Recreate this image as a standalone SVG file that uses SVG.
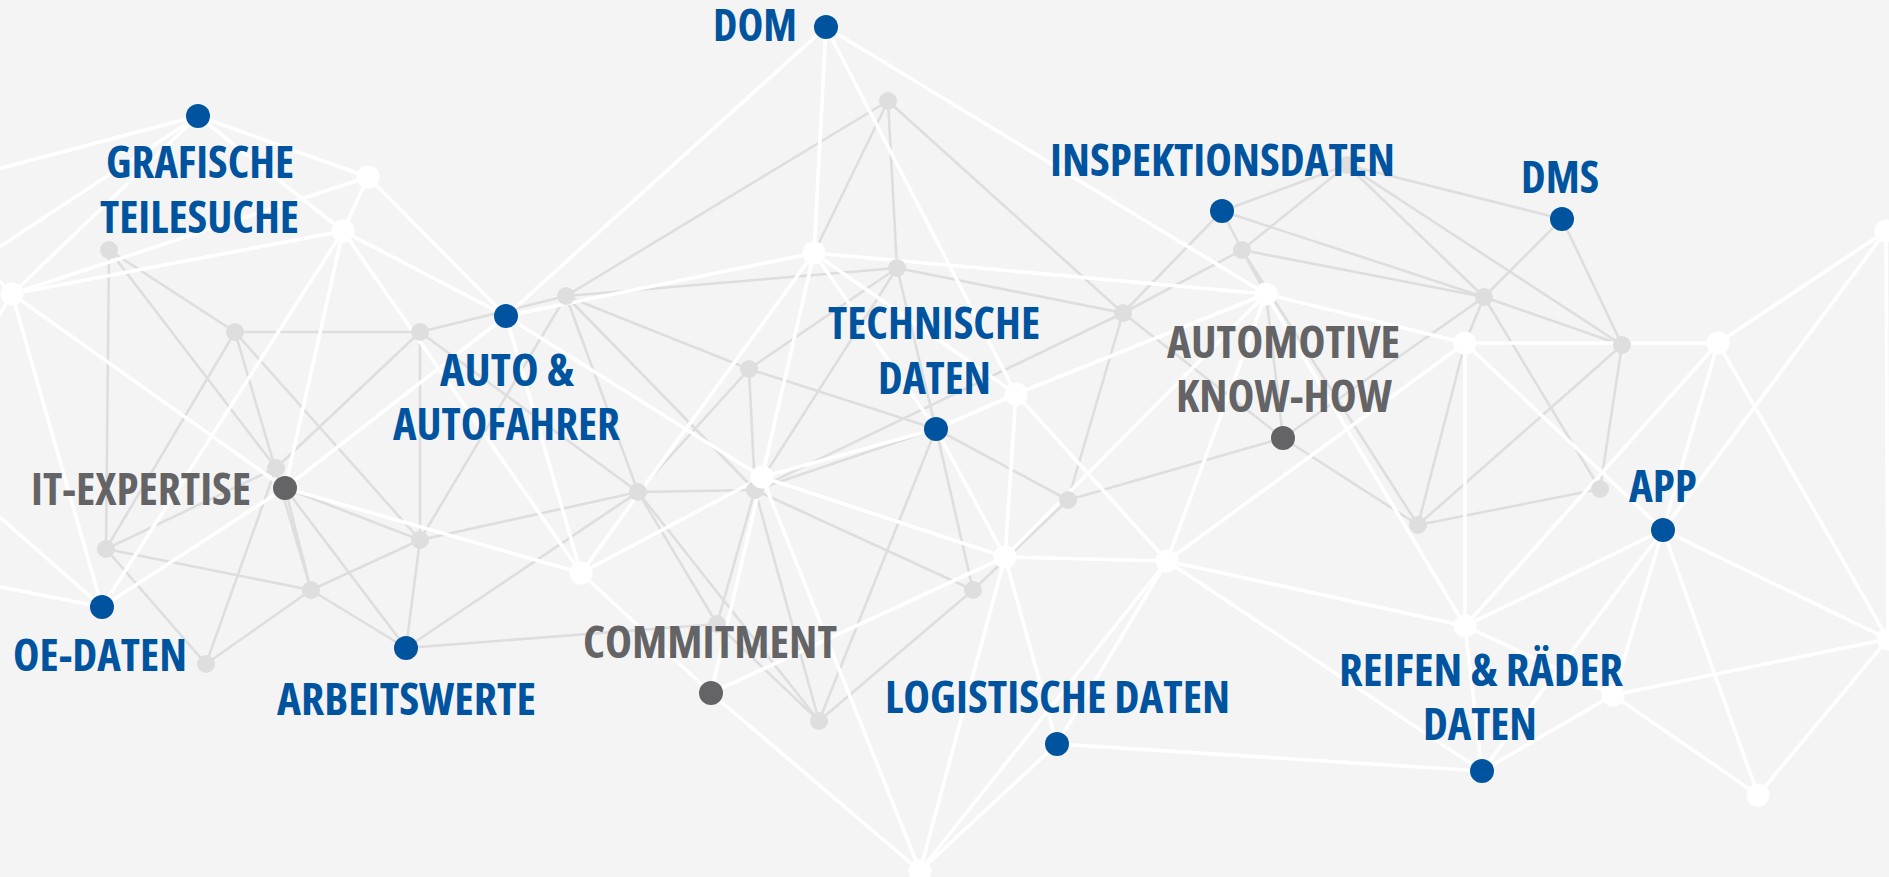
<svg xmlns="http://www.w3.org/2000/svg" width="1889" height="877" viewBox="0 0 1889 877">
<style>
.bg{fill:#f4f4f4}
.g line{stroke:#dedede;stroke-width:2.6}
.w line{stroke:#ffffff;stroke-width:3.6}
.ng{fill:#dedede}
.nw{fill:#ffffff}
.nb{fill:#00549f}
.nd{fill:#646466}
text{font-family:"Open Sans","Liberation Sans",sans-serif;font-weight:700;font-stretch:condensed;font-size:45px}
.tb{fill:#00549f}
.td{fill:#646466}
</style>
<rect class="bg" x="0" y="0" width="1889" height="877"/>
<g id="connectors">
<g class="g">
<line x1="109" y1="250" x2="106" y2="549"/>
<line x1="109" y1="250" x2="235" y2="332"/>
<line x1="109" y1="250" x2="276" y2="468"/>
<line x1="235" y1="332" x2="420" y2="332"/>
<line x1="235" y1="332" x2="106" y2="549"/>
<line x1="235" y1="332" x2="311" y2="590"/>
<line x1="235" y1="332" x2="420" y2="540"/>
<line x1="420" y1="332" x2="420" y2="540"/>
<line x1="420" y1="332" x2="276" y2="468"/>
<line x1="420" y1="332" x2="566" y2="296"/>
<line x1="420" y1="332" x2="638" y2="492"/>
<line x1="106" y1="549" x2="276" y2="468"/>
<line x1="106" y1="549" x2="311" y2="590"/>
<line x1="106" y1="549" x2="206" y2="664"/>
<line x1="206" y1="664" x2="276" y2="468"/>
<line x1="285" y1="488" x2="311" y2="590"/>
<line x1="285" y1="488" x2="406" y2="648"/>
<line x1="285" y1="488" x2="420" y2="540"/>
<line x1="311" y1="590" x2="420" y2="540"/>
<line x1="311" y1="590" x2="406" y2="648"/>
<line x1="311" y1="590" x2="206" y2="664"/>
<line x1="420" y1="540" x2="406" y2="648"/>
<line x1="420" y1="540" x2="638" y2="492"/>
<line x1="420" y1="540" x2="566" y2="296"/>
<line x1="406" y1="648" x2="638" y2="492"/>
<line x1="406" y1="648" x2="717" y2="624"/>
<line x1="566" y1="296" x2="888" y2="101"/>
<line x1="566" y1="296" x2="897" y2="268"/>
<line x1="566" y1="296" x2="749" y2="369"/>
<line x1="566" y1="296" x2="755" y2="490"/>
<line x1="566" y1="296" x2="638" y2="492"/>
<line x1="888" y1="101" x2="814" y2="253"/>
<line x1="888" y1="101" x2="897" y2="268"/>
<line x1="888" y1="101" x2="1123" y2="313"/>
<line x1="897" y1="268" x2="1123" y2="313"/>
<line x1="897" y1="268" x2="749" y2="369"/>
<line x1="897" y1="268" x2="936" y2="429"/>
<line x1="897" y1="268" x2="755" y2="490"/>
<line x1="749" y1="369" x2="638" y2="492"/>
<line x1="749" y1="369" x2="755" y2="490"/>
<line x1="749" y1="369" x2="936" y2="429"/>
<line x1="638" y1="492" x2="755" y2="490"/>
<line x1="638" y1="492" x2="717" y2="624"/>
<line x1="638" y1="492" x2="819" y2="721"/>
<line x1="717" y1="624" x2="755" y2="490"/>
<line x1="717" y1="624" x2="819" y2="721"/>
<line x1="755" y1="490" x2="819" y2="721"/>
<line x1="755" y1="490" x2="973" y2="590"/>
<line x1="755" y1="490" x2="936" y2="429"/>
<line x1="936" y1="429" x2="1068" y2="500"/>
<line x1="936" y1="429" x2="973" y2="590"/>
<line x1="936" y1="429" x2="819" y2="721"/>
<line x1="819" y1="721" x2="973" y2="590"/>
<line x1="973" y1="590" x2="1068" y2="500"/>
<line x1="1123" y1="313" x2="1222" y2="211"/>
<line x1="1123" y1="313" x2="1242" y2="250"/>
<line x1="1123" y1="313" x2="1283" y2="438"/>
<line x1="1123" y1="313" x2="1068" y2="500"/>
<line x1="1123" y1="313" x2="755" y2="490"/>
<line x1="1068" y1="500" x2="1283" y2="438"/>
<line x1="1222" y1="211" x2="1347" y2="165"/>
<line x1="1222" y1="211" x2="1484" y2="297"/>
<line x1="1222" y1="211" x2="1242" y2="250"/>
<line x1="1242" y1="250" x2="1347" y2="165"/>
<line x1="1242" y1="250" x2="1484" y2="297"/>
<line x1="1242" y1="250" x2="1266" y2="294"/>
<line x1="1242" y1="250" x2="1418" y2="525"/>
<line x1="1347" y1="165" x2="1562" y2="219"/>
<line x1="1347" y1="165" x2="1484" y2="297"/>
<line x1="1347" y1="165" x2="1622" y2="345"/>
<line x1="1484" y1="297" x2="1562" y2="219"/>
<line x1="1562" y1="219" x2="1622" y2="345"/>
<line x1="1484" y1="297" x2="1622" y2="345"/>
<line x1="1484" y1="297" x2="1283" y2="438"/>
<line x1="1484" y1="297" x2="1465" y2="343"/>
<line x1="1484" y1="297" x2="1600" y2="489"/>
<line x1="1465" y1="343" x2="1418" y2="525"/>
<line x1="1622" y1="345" x2="1418" y2="525"/>
<line x1="1622" y1="345" x2="1600" y2="489"/>
<line x1="1418" y1="525" x2="1600" y2="489"/>
<line x1="1283" y1="438" x2="1418" y2="525"/>
<line x1="1266" y1="294" x2="1283" y2="438"/>
</g>
<g class="w">
<line x1="198" y1="116" x2="-40" y2="179"/>
<line x1="198" y1="116" x2="-40" y2="273"/>
<line x1="12" y1="294" x2="-30" y2="249"/>
<line x1="12" y1="294" x2="-30" y2="364"/>
<line x1="102" y1="607" x2="-40" y2="482"/>
<line x1="102" y1="607" x2="-40" y2="579"/>
<line x1="198" y1="116" x2="12" y2="294"/>
<line x1="198" y1="116" x2="368" y2="177"/>
<line x1="198" y1="116" x2="343" y2="231"/>
<line x1="368" y1="177" x2="343" y2="231"/>
<line x1="368" y1="177" x2="12" y2="294"/>
<line x1="368" y1="177" x2="506" y2="316"/>
<line x1="343" y1="231" x2="12" y2="294"/>
<line x1="343" y1="231" x2="506" y2="316"/>
<line x1="343" y1="231" x2="102" y2="607"/>
<line x1="343" y1="231" x2="285" y2="488"/>
<line x1="343" y1="231" x2="581" y2="573"/>
<line x1="12" y1="294" x2="285" y2="488"/>
<line x1="12" y1="294" x2="102" y2="607"/>
<line x1="102" y1="607" x2="285" y2="488"/>
<line x1="506" y1="316" x2="826" y2="27"/>
<line x1="506" y1="316" x2="814" y2="253"/>
<line x1="506" y1="316" x2="762" y2="477"/>
<line x1="506" y1="316" x2="581" y2="573"/>
<line x1="506" y1="316" x2="285" y2="488"/>
<line x1="285" y1="488" x2="581" y2="573"/>
<line x1="826" y1="27" x2="814" y2="253"/>
<line x1="826" y1="27" x2="1016" y2="394"/>
<line x1="826" y1="27" x2="1266" y2="294"/>
<line x1="814" y1="253" x2="1266" y2="294"/>
<line x1="814" y1="253" x2="762" y2="477"/>
<line x1="814" y1="253" x2="581" y2="573"/>
<line x1="814" y1="253" x2="936" y2="429"/>
<line x1="814" y1="253" x2="1016" y2="394"/>
<line x1="762" y1="477" x2="581" y2="573"/>
<line x1="762" y1="477" x2="711" y2="693"/>
<line x1="762" y1="477" x2="936" y2="429"/>
<line x1="762" y1="477" x2="1005" y2="557"/>
<line x1="762" y1="477" x2="920" y2="871"/>
<line x1="581" y1="573" x2="711" y2="693"/>
<line x1="1016" y1="394" x2="1266" y2="294"/>
<line x1="1016" y1="394" x2="936" y2="429"/>
<line x1="1016" y1="394" x2="1005" y2="557"/>
<line x1="1016" y1="394" x2="1167" y2="561"/>
<line x1="1266" y1="294" x2="1465" y2="343"/>
<line x1="1266" y1="294" x2="1005" y2="557"/>
<line x1="1266" y1="294" x2="1167" y2="561"/>
<line x1="1266" y1="294" x2="1465" y2="626"/>
<line x1="936" y1="429" x2="1005" y2="557"/>
<line x1="711" y1="693" x2="1005" y2="557"/>
<line x1="711" y1="693" x2="920" y2="871"/>
<line x1="1005" y1="557" x2="1167" y2="561"/>
<line x1="1005" y1="557" x2="920" y2="871"/>
<line x1="1005" y1="557" x2="1057" y2="744"/>
<line x1="1167" y1="561" x2="1465" y2="343"/>
<line x1="1167" y1="561" x2="1465" y2="626"/>
<line x1="1167" y1="561" x2="1482" y2="771"/>
<line x1="1167" y1="561" x2="1057" y2="744"/>
<line x1="1167" y1="561" x2="920" y2="871"/>
<line x1="1057" y1="744" x2="920" y2="871"/>
<line x1="1057" y1="744" x2="1482" y2="771"/>
<line x1="1465" y1="343" x2="1718" y2="343"/>
<line x1="1465" y1="343" x2="1465" y2="626"/>
<line x1="1465" y1="343" x2="1663" y2="530"/>
<line x1="1718" y1="343" x2="1886" y2="231"/>
<line x1="1718" y1="343" x2="1663" y2="530"/>
<line x1="1718" y1="343" x2="1465" y2="626"/>
<line x1="1718" y1="343" x2="1888" y2="639"/>
<line x1="1886" y1="231" x2="1663" y2="530"/>
<line x1="1886" y1="231" x2="1888" y2="639"/>
<line x1="1663" y1="530" x2="1465" y2="626"/>
<line x1="1663" y1="530" x2="1482" y2="771"/>
<line x1="1663" y1="530" x2="1613" y2="695"/>
<line x1="1663" y1="530" x2="1758" y2="795"/>
<line x1="1663" y1="530" x2="1888" y2="639"/>
<line x1="1465" y1="626" x2="1613" y2="695"/>
<line x1="1465" y1="626" x2="1482" y2="771"/>
<line x1="1613" y1="695" x2="1482" y2="771"/>
<line x1="1613" y1="695" x2="1888" y2="639"/>
<line x1="1613" y1="695" x2="1758" y2="795"/>
<line x1="1888" y1="639" x2="1758" y2="795"/>
</g>
</g>
<g id="n-g1"><circle class="ng" cx="888" cy="101" r="9"/></g>
<g id="n-g2"><circle class="ng" cx="109" cy="250" r="9"/></g>
<g id="n-g3"><circle class="ng" cx="235" cy="332" r="9"/></g>
<g id="n-g4"><circle class="ng" cx="420" cy="332" r="9"/></g>
<g id="n-g5"><circle class="ng" cx="566" cy="296" r="9"/></g>
<g id="n-g6"><circle class="ng" cx="897" cy="268" r="9"/></g>
<g id="n-g7"><circle class="ng" cx="1242" cy="250" r="9"/></g>
<g id="n-g7b"><circle class="ng" cx="1347" cy="165" r="9"/></g>
<g id="n-g8"><circle class="ng" cx="1123" cy="313" r="9"/></g>
<g id="n-g9"><circle class="ng" cx="1484" cy="297" r="9"/></g>
<g id="n-g10"><circle class="ng" cx="1622" cy="345" r="9"/></g>
<g id="n-g11"><circle class="ng" cx="749" cy="369" r="9"/></g>
<g id="n-g12"><circle class="ng" cx="276" cy="468" r="9"/></g>
<g id="n-g13"><circle class="ng" cx="638" cy="492" r="9"/></g>
<g id="n-g14"><circle class="ng" cx="106" cy="549" r="9"/></g>
<g id="n-g15"><circle class="ng" cx="420" cy="540" r="9"/></g>
<g id="n-g16"><circle class="ng" cx="311" cy="590" r="9"/></g>
<g id="n-g17"><circle class="ng" cx="206" cy="664" r="9"/></g>
<g id="n-g18"><circle class="ng" cx="1068" cy="500" r="9"/></g>
<g id="n-g19"><circle class="ng" cx="973" cy="590" r="9"/></g>
<g id="n-g20"><circle class="ng" cx="717" cy="624" r="9"/></g>
<g id="n-g21"><circle class="ng" cx="819" cy="721" r="9"/></g>
<g id="n-g22"><circle class="ng" cx="1418" cy="525" r="9"/></g>
<g id="n-g23"><circle class="ng" cx="1600" cy="489" r="9"/></g>
<g id="n-g24"><circle class="ng" cx="755" cy="490" r="9"/></g>
<g id="n-w1"><circle class="nw" cx="368" cy="177" r="11.5"/></g>
<g id="n-w2"><circle class="nw" cx="343" cy="231" r="11.5"/></g>
<g id="n-w3"><circle class="nw" cx="12" cy="294" r="11.5"/></g>
<g id="n-w4"><circle class="nw" cx="814" cy="253" r="11.5"/></g>
<g id="n-w5"><circle class="nw" cx="762" cy="477" r="11.5"/></g>
<g id="n-w6"><circle class="nw" cx="1016" cy="394" r="11.5"/></g>
<g id="n-w7"><circle class="nw" cx="1266" cy="294" r="11.5"/></g>
<g id="n-w8"><circle class="nw" cx="1465" cy="343" r="11.5"/></g>
<g id="n-w9"><circle class="nw" cx="1718" cy="343" r="11.5"/></g>
<g id="n-w10"><circle class="nw" cx="1886" cy="231" r="11.5"/></g>
<g id="n-w11"><circle class="nw" cx="581" cy="573" r="11.5"/></g>
<g id="n-w12"><circle class="nw" cx="1005" cy="557" r="11.5"/></g>
<g id="n-w13"><circle class="nw" cx="1167" cy="561" r="11.5"/></g>
<g id="n-w14"><circle class="nw" cx="1465" cy="626" r="11.5"/></g>
<g id="n-w15"><circle class="nw" cx="1613" cy="695" r="11.5"/></g>
<g id="n-w16"><circle class="nw" cx="1888" cy="639" r="11.5"/></g>
<g id="n-w17"><circle class="nw" cx="1758" cy="795" r="11.5"/></g>
<g id="n-w18"><circle class="nw" cx="920" cy="871" r="11.5"/></g>
<g id="n-dom"><circle class="nb" cx="826" cy="27" r="12"/><text class="tb" x="713" y="41" textLength="84" lengthAdjust="spacingAndGlyphs">DOM</text></g>
<g id="n-grafische"><circle class="nb" cx="198" cy="116" r="12"/><text class="tb" x="106" y="178" textLength="188" lengthAdjust="spacingAndGlyphs">GRAFISCHE</text><text class="tb" x="100" y="232.5" textLength="199" lengthAdjust="spacingAndGlyphs">TEILESUCHE</text></g>
<g id="n-inspektion"><circle class="nb" cx="1222" cy="211" r="12"/><text class="tb" x="1050" y="176" textLength="345" lengthAdjust="spacingAndGlyphs">INSPEKTIONSDATEN</text></g>
<g id="n-dms"><circle class="nb" cx="1562" cy="219" r="12"/><text class="tb" x="1521" y="192.5" textLength="78" lengthAdjust="spacingAndGlyphs">DMS</text></g>
<g id="n-auto"><circle class="nb" cx="506" cy="316" r="12"/><text class="tb" x="440" y="386" textLength="134" lengthAdjust="spacingAndGlyphs">AUTO &amp;</text><text class="tb" x="393" y="440" textLength="227" lengthAdjust="spacingAndGlyphs">AUTOFAHRER</text></g>
<g id="n-technische"><circle class="nb" cx="936" cy="429" r="12"/><text class="tb" x="828" y="339" textLength="212" lengthAdjust="spacingAndGlyphs">TECHNISCHE</text><text class="tb" x="878" y="393.5" textLength="113" lengthAdjust="spacingAndGlyphs">DATEN</text></g>
<g id="n-automotive"><circle class="nd" cx="1283" cy="438" r="12"/><text class="td" x="1167" y="358.3" textLength="233" lengthAdjust="spacingAndGlyphs">AUTOMOTIVE</text><text class="td" x="1176" y="411.7" textLength="216" lengthAdjust="spacingAndGlyphs">KNOW-HOW</text></g>
<g id="n-it"><circle class="nd" cx="285" cy="488" r="12"/><text class="td" x="31" y="505.3" textLength="220" lengthAdjust="spacingAndGlyphs">IT-EXPERTISE</text></g>
<g id="n-oe"><circle class="nb" cx="102" cy="607" r="12"/><text class="tb" x="13" y="671.3" textLength="174" lengthAdjust="spacingAndGlyphs">OE-DATEN</text></g>
<g id="n-arbeit"><circle class="nb" cx="406" cy="648" r="12"/><text class="tb" x="277" y="714.7" textLength="259" lengthAdjust="spacingAndGlyphs">ARBEITSWERTE</text></g>
<g id="n-commit"><circle class="nd" cx="711" cy="693" r="12"/><text class="td" x="583" y="658.3" textLength="254" lengthAdjust="spacingAndGlyphs">COMMITMENT</text></g>
<g id="n-logistik"><circle class="nb" cx="1057" cy="744" r="12"/><text class="tb" x="885" y="713" textLength="345" lengthAdjust="spacingAndGlyphs">LOGISTISCHE DATEN</text></g>
<g id="n-app"><circle class="nb" cx="1663" cy="530" r="12"/><text class="tb" x="1629" y="501.7" textLength="68" lengthAdjust="spacingAndGlyphs">APP</text></g>
<g id="n-reifen"><circle class="nb" cx="1482" cy="771" r="12"/><text class="tb" x="1339" y="686.3" textLength="284" lengthAdjust="spacingAndGlyphs">REIFEN &amp; RÄDER</text><text class="tb" x="1423" y="740.3" textLength="114" lengthAdjust="spacingAndGlyphs">DATEN</text></g>
</svg>
